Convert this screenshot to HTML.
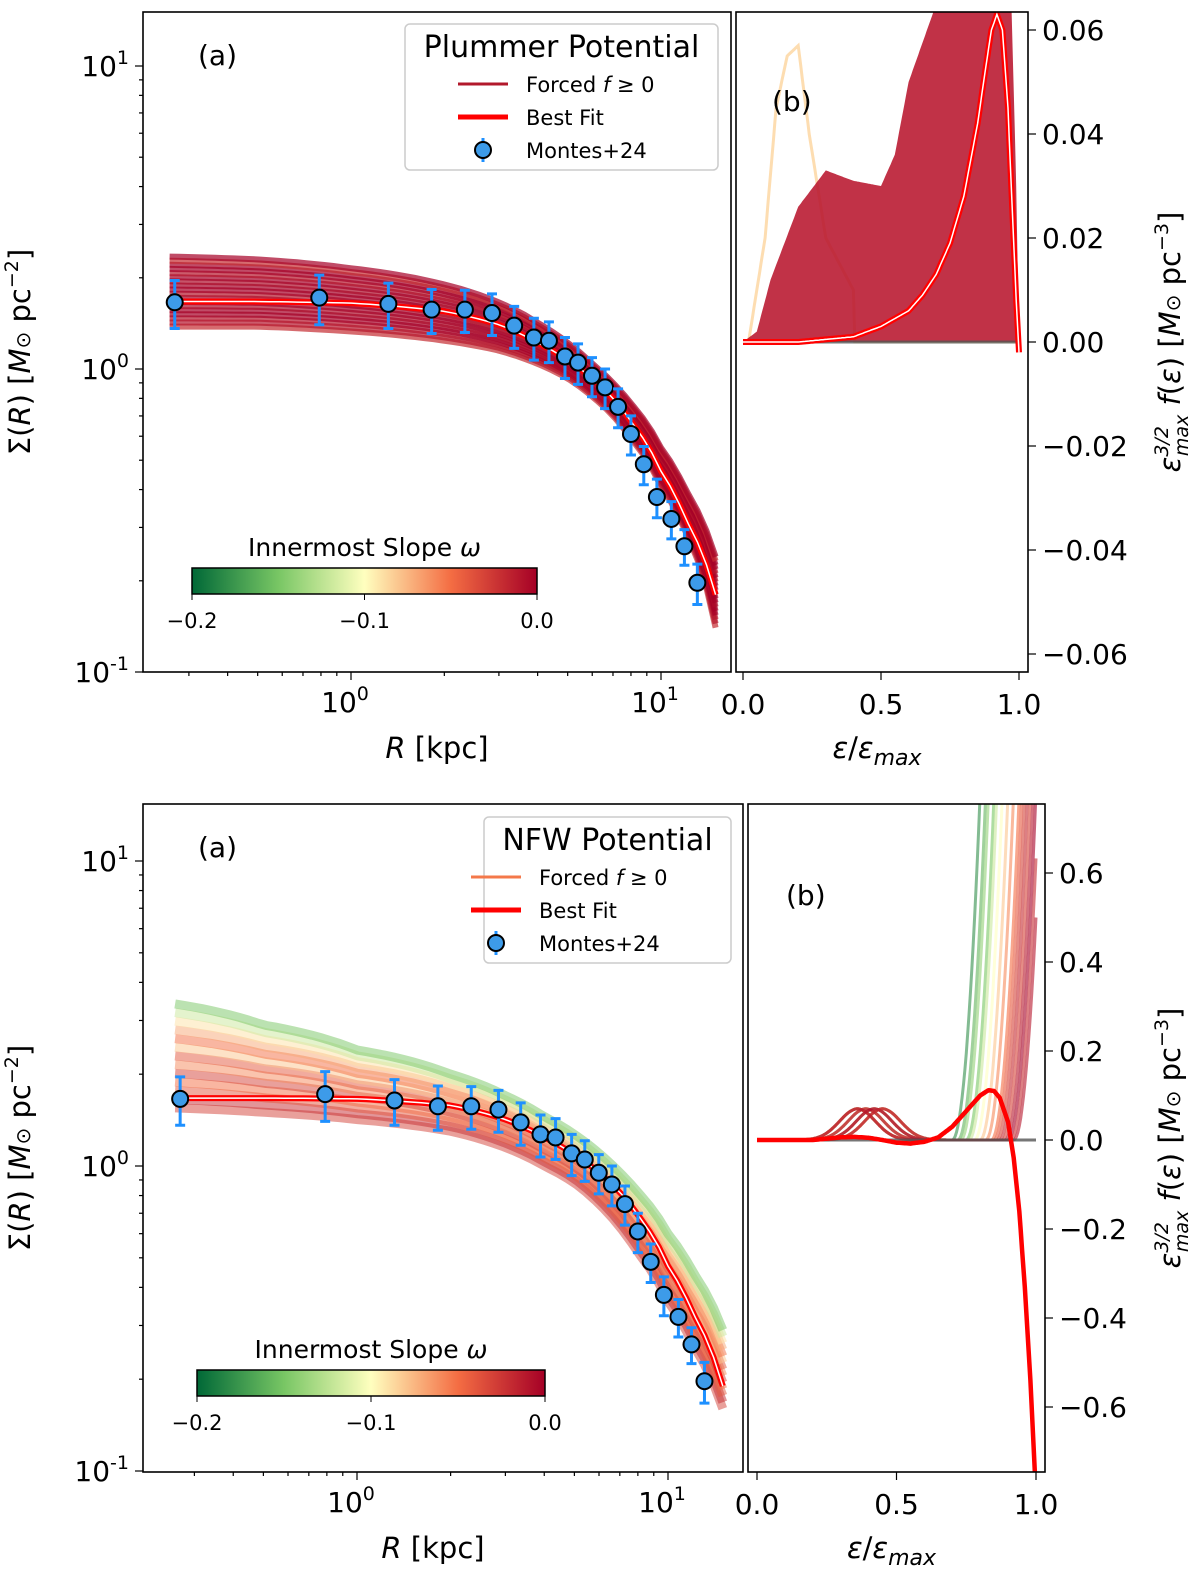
<!DOCTYPE html>
<html><head><meta charset="utf-8"><style>
body{margin:0;background:#fff}
svg{font-family:"DejaVu Sans","Liberation Sans",sans-serif}
</style></head><body>
<svg id="s" width="1200" height="1579" viewBox="0 0 1200 1579"></svg>
<script>
// ---- data ----
const obsR=[0.27,0.79,1.32,1.82,2.33,2.85,3.36,3.89,4.35,4.9,5.4,5.99,6.6,7.27,8.0,8.8,9.7,10.8,11.9,13.1];
const obsS=[1.66,1.72,1.64,1.57,1.57,1.53,1.39,1.27,1.24,1.10,1.05,0.95,0.87,0.75,0.61,0.485,0.378,0.32,0.26,0.197];
const obsE=[0.3,0.32,0.28,0.26,0.25,0.24,0.22,0.2,0.19,0.17,0.16,0.14,0.13,0.11,0.09,0.07,0.055,0.045,0.035,0.03];
const gridR=[0.26,0.5,1,2,3,4,5,6,7,8,10,12,15];
const plUp=[2.35,2.3,2.15,1.9,1.66,1.42,1.22,1.04,0.9,0.77,0.55,0.4,0.24];
const plLo=[1.38,1.38,1.33,1.24,1.15,1.04,0.93,0.81,0.7,0.59,0.41,0.29,0.14];
const plBest=[1.67,1.67,1.65,1.55,1.4,1.22,1.07,0.93,0.8,0.67,0.46,0.32,0.18];
const nfUp=[3.4,2.9,2.4,2.0,1.7,1.45,1.27,1.1,0.95,0.82,0.6,0.45,0.29];
const nfLo=[1.55,1.5,1.42,1.3,1.15,1.0,0.88,0.75,0.63,0.52,0.36,0.26,0.16];
const nfBest=[1.67,1.67,1.66,1.58,1.42,1.24,1.09,0.95,0.82,0.69,0.47,0.33,0.19];
const nfLineSlope=[-0.03,-0.02,-0.04,-0.05,-0.03,-0.06,-0.04,-0.08,-0.05,-0.07,-0.09,-0.12,-0.15];
const epsGrid=[0,0.05,0.1,0.2,0.3,0.4,0.5,0.55,0.6,0.7,0.8,0.9,0.97,0.99,1.0];
const plDFtop=[0,0.002,0.012,0.026,0.033,0.031,0.03,0.036,0.05,0.065,0.07,0.07,0.07,0.03,0];
const plBestEps=[0,0.2,0.3,0.4,0.5,0.6,0.65,0.7,0.75,0.8,0.85,0.88,0.9,0.92,0.94,0.96,0.98,0.99,1.0];
const plDFbest=[0,0,0.0005,0.001,0.003,0.006,0.009,0.013,0.019,0.028,0.042,0.053,0.06,0.063,0.06,0.045,0.02,0.008,-0.002];
const ylEps=[0.02,0.08,0.12,0.16,0.2,0.24,0.3,0.4];
const ylVal=[0,0.02,0.045,0.055,0.057,0.04,0.02,0.01];
const nfEps=[0,0.2,0.25,0.3,0.35,0.4,0.45,0.5,0.55,0.6,0.65,0.7,0.75,0.8,0.83,0.85,0.87,0.9,0.92,0.94,0.96,0.98,1.0];
const nfDFbest=[0,0,0.003,0.006,0.007,0.005,0,-0.006,-0.008,-0.004,0.006,0.03,0.065,0.1,0.112,0.11,0.095,0.04,-0.04,-0.16,-0.33,-0.54,-0.8];
const nfOnset=[0.7,0.72,0.73,0.75,0.76,0.78,0.8,0.82,0.84,0.85,0.86,0.87,0.88,0.89,0.9,0.91,0.92];
const nfOnsetSlope=[-0.18,-0.16,-0.14,-0.15,-0.12,-0.1,-0.08,-0.06,-0.05,-0.04,-0.03,-0.02,-0.03,-0.01,0,-0.02,-0.01];

const S=document.getElementById('s'),NS='http://www.w3.org/2000/svg';
function el(t,a,p){const e=document.createElementNS(NS,t);for(const k in a)e.setAttribute(k,a[k]);(p||S).appendChild(e);return e;}
function slopeColor(w){const t=(w+0.2)/0.2;const st=[[0,[0,104,55]],[0.25,[120,198,100]],[0.5,[255,255,191]],[0.75,[244,109,67]],[1,[165,0,38]]];
 for(let i=1;i<st.length;i++)if(t<=st[i][0]){const a=st[i-1],b=st[i],f=(t-a[0])/(b[0]-a[0]);return 'rgb('+a[1].map((v,j)=>Math.round(v+(b[1][j]-v)*f)).join(',')+')';}return 'rgb(165,0,38)';}
function interp(xs,ys,x){if(x<=xs[0])return ys[0];for(let i=1;i<xs.length;i++)if(x<=xs[i]){const f=(x-xs[i-1])/(xs[i]-xs[i-1]);return ys[i-1]+f*(ys[i]-ys[i-1]);}return ys[ys.length-1];}
function pts(xs,ys,fx,fy){return xs.map((x,i)=>fx(x).toFixed(1)+','+fy(ys[i]).toFixed(1)).join(' ');}

function leftPanel(P){
 const fx=r=>P.x10+(Math.log10(r))*P.dx, fy=v=>P.y0-Math.log10(v)*P.dy;
 const g=el('g',{});
 const cid=P.id+'clipL';const cp=el('clipPath',{id:cid},g);el('rect',{x:P.L,y:P.T,width:P.R-P.L,height:P.B-P.T},cp);
 const cg=el('g',{'clip-path':'url(#'+cid+')'},g);
 const fine=[];for(let i=0;i<=60;i++)fine.push(gridR[0]*Math.pow(15/gridR[0],i/60));
 const n=P.lines.length;
 for(let k=0;k<n;k++){const f=k/(n-1);
  const ys=fine.map(r=>{const u=interp(gridR,P.up,r),l=interp(gridR,P.lo,r);return Math.exp(Math.log(l)+f*(Math.log(u)-Math.log(l)));});
  const e=el('polyline',{points:pts(fine,ys,fx,fy),fill:'none',stroke:slopeColor(P.lines[k]),'stroke-width':P.lw,'stroke-opacity':P.op},cg);
  }
 const bf=fine.map(r=>interp(gridR,P.best,r));
 el('polyline',{points:pts(fine,bf,fx,fy),fill:'none',stroke:'#ff0000','stroke-width':6},cg);
 el('polyline',{points:pts(fine,bf,fx,fy),fill:'none',stroke:'#fff','stroke-width':1.5},cg);
 obsR.forEach((r,i)=>{const x=fx(r),y1=fy(obsS[i]+obsE[i]),y2=fy(obsS[i]-obsE[i]);
  const e=el('path',{d:`M${x},${y1}V${y2}M${x-5},${y1}H${x+5}M${x-5},${y2}H${x+5}`,stroke:'#1e90ff','stroke-width':3,fill:'none'},g);
  const c=el('circle',{cx:x,cy:fy(obsS[i]),r:8,fill:'#3d9be9',stroke:'#000','stroke-width':2},g);});
 el('rect',{x:P.L,y:P.T,width:P.R-P.L,height:P.B-P.T,fill:'none',stroke:'#000','stroke-width':1.6},g);
 for(let d=-1;d<=1;d++){for(let m=1;m<10;m++){const v=m*Math.pow(10,d),y=fy(v);if(y<P.T||y>P.B)continue;el('line',{x1:P.L,x2:P.L-(m==1?8:4),y1:y,y2:y,stroke:'#000','stroke-width':1.2},g);}
  const y=fy(Math.pow(10,d));const t=el('text',{x:P.L-14,y:y+10,'text-anchor':'end','font-size':28},g);t.innerHTML='10<tspan dy="-12" font-size="19">'+d+'</tspan>';}
 for(let d=-1;d<=1;d++){for(let m=1;m<10;m++){const v=m*Math.pow(10,d),x=fx(v);if(x<P.L||x>P.R)continue;el('line',{x1:x,x2:x,y1:P.B,y2:P.B+(m==1?8:4),stroke:'#000','stroke-width':1.2},g);
  if(m==1){const t=el('text',{x:x-6,y:P.B+40,'text-anchor':'middle','font-size':28},g);t.innerHTML='10<tspan dy="-12" font-size="19">'+d+'</tspan>';}}}
 const xl=el('text',{x:(P.L+P.R)/2+P.xlo,y:P.B+86,'text-anchor':'middle','font-size':29},g);xl.innerHTML='<tspan font-style="italic">R</tspan> [kpc]';
 const yl=el('text',{transform:`translate(30,${(P.T+P.B)/2+10}) rotate(-90)`,'text-anchor':'middle','font-size':29},g);yl.innerHTML='Σ(<tspan font-style="italic">R</tspan>) [<tspan font-style="italic">M</tspan><tspan font-size="20">⊙</tspan> pc<tspan dy="-12" font-size="19">−2</tspan><tspan dy="12">]</tspan>';
 el('text',{x:P.L+55,y:P.T+53,'font-size':28},g).textContent='(a)';
 const lg=el('g',{},g);
 el('rect',{x:P.lgx,y:P.lgy,width:P.lgw,height:146,rx:5,fill:'#fff',stroke:'#ccc','stroke-width':1.5},lg);
 el('text',{x:P.lgx+P.lgw/2,y:P.lgy+33,'text-anchor':'middle','font-size':30},lg).textContent=P.title;
 const ex=P.lgx+P.lgw-192;
 el('line',{x1:ex-68,x2:ex-18,y1:P.lgy+60,y2:P.lgy+60,stroke:P.enc,'stroke-width':3},lg);
 el('line',{x1:ex-68,x2:ex-18,y1:P.lgy+93,y2:P.lgy+93,stroke:'#ff0000','stroke-width':5},lg);
 el('path',{d:`M${ex-43},${P.lgy+114}V${P.lgy+138}`,stroke:'#1e90ff','stroke-width':3},lg);
 el('circle',{cx:ex-43,cy:P.lgy+126,r:8,fill:'#3d9be9',stroke:'#000','stroke-width':2},lg);
 const t1=el('text',{x:ex,y:P.lgy+68,'font-size':21},lg);t1.innerHTML='Forced <tspan font-style="italic">f</tspan> ≥ 0';
 el('text',{x:ex,y:P.lgy+101,'font-size':21},lg).textContent='Best Fit';
 el('text',{x:ex,y:P.lgy+134,'font-size':21},lg).textContent='Montes+24';
 const cb=el('g',{},g);
 const gid=P.id+'cbg';const gr=el('linearGradient',{id:gid},cb);
 [0,0.25,0.5,0.75,1].forEach(o=>el('stop',{offset:o,'stop-color':slopeColor(-0.2+0.2*o)},gr));
 el('rect',{x:P.cbx,y:P.cby,width:P.cbw,height:26,fill:'url(#'+gid+')',stroke:'#000','stroke-width':1.5},cb);
 const ct=el('text',{x:P.cbx+P.cbw/2,y:P.cby-12,'text-anchor':'middle','font-size':25},cb);ct.innerHTML='Innermost Slope <tspan font-style="italic">ω</tspan>';
 ['−0.2','−0.1','0.0'].forEach((s,i)=>{const x=P.cbx+i*P.cbw/2;el('line',{x1:x,x2:x,y1:P.cby+26,y2:P.cby+32,stroke:'#000'},cb);el('text',{x:x,y:P.cby+60,'text-anchor':'middle','font-size':21},cb).textContent=s;});
}

function rightPanel(P){
 const fx=e=>P.x0+e*P.dx, fy=v=>P.y0-v*P.dy;
 const g=el('g',{});
 const cid=P.id+'clipR';const cp=el('clipPath',{id:cid},g);el('rect',{x:P.L,y:P.T,width:P.R-P.L,height:P.B-P.T},cp);
 const cg=el('g',{'clip-path':'url(#'+cid+')'},g);
 P.draw(cg,fx,fy);
 el('line',{x1:fx(0),x2:fx(1),y1:fy(0),y2:fy(0),stroke:'#555','stroke-width':3,opacity:0.8},cg);
 P.drawBest(cg,fx,fy);
 el('rect',{x:P.L,y:P.T,width:P.R-P.L,height:P.B-P.T,fill:'none',stroke:'#000','stroke-width':1.6},g);
 P.yt.forEach(v=>{const y=fy(v);el('line',{x1:P.R,x2:P.R+8,y1:y,y2:y,stroke:'#000','stroke-width':1.2},g);
  const t=el('text',{x:P.R+14,y:y+10,'font-size':28},g);t.textContent=(v<0?'−':'')+Math.abs(v).toFixed(P.dec);});
 [0,0.5,1].forEach(v=>{const x=fx(v);el('line',{x1:x,x2:x,y1:P.B,y2:P.B+8,stroke:'#000','stroke-width':1.2},g);el('text',{x:x,y:P.B+42,'text-anchor':'middle','font-size':28},g).textContent=v.toFixed(1);});
 const xl=el('text',{x:(P.L+P.R)/2-5,y:P.B+86,'text-anchor':'middle','font-size':29},g);xl.innerHTML='<tspan font-style="italic">ε</tspan>/<tspan font-style="italic">ε</tspan><tspan font-style="italic" font-size="22" dy="7">max</tspan>';
 const yl=el('text',{transform:`translate(1180,${(P.T+P.B)/2}) rotate(-90)`,'text-anchor':'middle','font-size':29},g);
 yl.innerHTML='<tspan font-style="italic">ε</tspan><tspan font-size="19" font-style="italic" dy="-12">3/2</tspan><tspan font-size="19" font-style="italic" dx="-30" dy="20">max</tspan><tspan dy="-8"> </tspan><tspan font-style="italic">f</tspan>(<tspan font-style="italic">ε</tspan>) [<tspan font-style="italic">M</tspan><tspan font-size="20">⊙</tspan> pc<tspan dy="-12" font-size="19">−3</tspan><tspan dy="12">]</tspan>';
 el('text',{x:P.bx,y:P.by,'font-size':28},g).textContent='(b)';
}

leftPanel({id:'top',L:143,R:731,T:12,B:672,x10:351,dx:310,y0:369,dy:303,up:plUp,lo:plLo,best:plBest,
 lines:[-0.02,-0.01,-0.01,0,0,-0.005,0,0,-0.01,0,0,-0.005,0,-0.01,0,0,-0.02,0],lw:6,op:0.7,enc:'#b2182b',xlo:0,
 title:'Plummer Potential',lgx:405,lgy:24,lgw:313,cbx:192,cby:568,cbw:345});
leftPanel({id:'bot',L:143,R:743,T:804,B:1472,x10:357,dx:311,y0:1166,dy:305,up:nfUp,lo:nfLo,best:nfBest,
 lines:nfLineSlope,lw:9,op:0.5,enc:'#f4784a',xlo:-10,
 title:'NFW Potential',lgx:484,lgy:817,lgw:247,cbx:197,cby:1370,cbw:348});

rightPanel({id:'top',L:736,R:1028,T:12,B:672,x0:743,dx:276,y0:342,dy:5200,yt:[0.06,0.04,0.02,0,-0.02,-0.04,-0.06],dec:2,bx:772,by:111,
 draw(cg,fx,fy){
  const f=[];for(let i=0;i<=200;i++)f.push(i/200);
  const yl=f.map(e=>e<=0.4&&e>=0.02?interp(ylEps,ylVal,e):0);
  el('polyline',{points:pts(f,yl,fx,fy),fill:'none',stroke:'#fdd49e','stroke-width':3,opacity:0.8},cg);
  const top=f.map(e=>interp(epsGrid,plDFtop,e));
  const poly=pts(f,top,fx,fy)+' '+fx(1)+','+fy(0)+' '+fx(0)+','+fy(0);
  el('polygon',{points:poly,fill:'#b8162e',opacity:0.88},cg);
 },
 drawBest(cg,fx,fy){const f=[];for(let i=0;i<=200;i++)f.push(i/200);
  const bf=f.map(e=>interp(plBestEps,plDFbest,e));
  el('polyline',{points:pts(f,bf,fx,fy),fill:'none',stroke:'#ff0000','stroke-width':6,'stroke-linejoin':'round'},cg);
  el('polyline',{points:pts(f,bf,fx,fy),fill:'none',stroke:'#fff','stroke-width':1.5},cg);
 }});
rightPanel({id:'bot',L:748,R:1045,T:804,B:1472,x0:757,dx:279,y0:1140,dy:445,yt:[0.6,0.4,0.2,0,-0.2,-0.4,-0.6],dec:1,bx:786,by:905,
 draw(cg,fx,fy){
  const f=[];for(let i=0;i<=200;i++)f.push(i/200);
  nfOnset.forEach((o,k)=>{const ys=f.map(e=>{let v=0.07*Math.exp(-Math.pow((e-0.36-0.03*(k%4))/0.09,2));if(e>o)v+=Math.pow((e-o)/0.08,2)*0.5;return v;});
   const e=el('polyline',{points:pts(f,ys,fx,fy),fill:'none',stroke:slopeColor(nfOnsetSlope[k]),'stroke-width':3,'stroke-opacity':0.6},cg);
   });
 },
 drawBest(cg,fx,fy){const f=[];for(let i=0;i<=200;i++)f.push(i/200);
  const bf=f.map(e=>interp(nfEps,nfDFbest,e));
  el('polyline',{points:pts(f,bf,fx,fy),fill:'none',stroke:'#ff0000','stroke-width':4.5,'stroke-linejoin':'round'},cg);
 }});
</script>
</body></html>
